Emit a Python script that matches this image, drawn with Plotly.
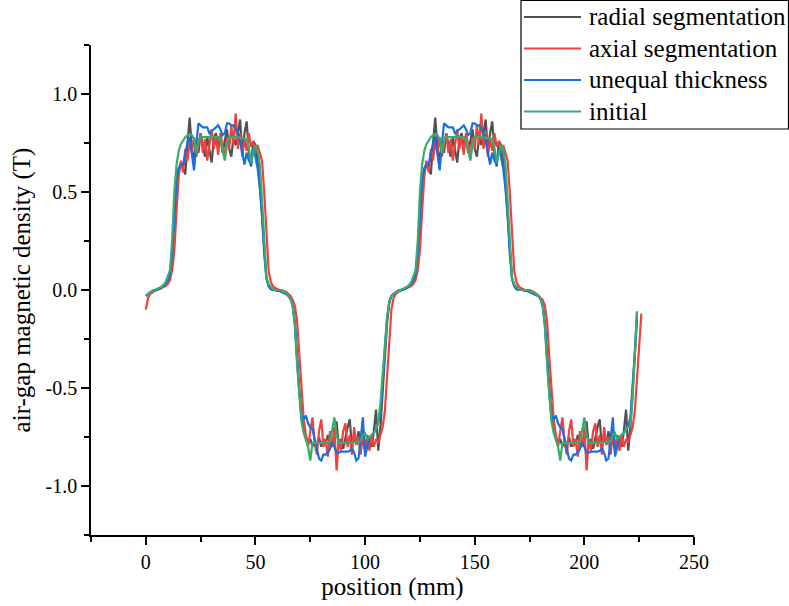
import plotly.graph_objects as go

# sampling positions along the air gap (mm)
position_mm = list(range(227))

radial_segmentation = [
    -0.03, -0.02, -0.01, -0.005, 0.0, 0.0, 0.005, 0.01, 0.02, 0.03,
    0.05, 0.08, 0.18, 0.40, 0.56, 0.62, 0.64, 0.62, 0.59, 0.75,
    0.88, 0.72, 0.66, 0.76, 0.70, 0.80, 0.74, 0.68, 0.78, 0.72,
    0.65, 0.77, 0.80, 0.73, 0.78, 0.70, 0.76, 0.82, 0.72, 0.68,
    0.78, 0.74, 0.80, 0.87, 0.70, 0.80, 0.86, 0.70, 0.63, 0.76,
    0.74, 0.66, 0.54, 0.38, 0.18, 0.06, 0.02, 0.005, 0.0, 0.0,
    -0.005, -0.005, -0.01, -0.015, -0.02, -0.03, -0.045, -0.08, -0.17, -0.35,
    -0.53, -0.66, -0.70, -0.75, -0.78, -0.76, -0.80, -0.77, -0.79, -0.75,
    -0.80, -0.76, -0.79, -0.74, -0.78, -0.80, -0.74, -0.67, -0.80, -0.76,
    -0.81, -0.75, -0.70, -0.66, -0.80, -0.74, -0.79, -0.72, -0.80, -0.76,
    -0.82, -0.74, -0.78, -0.80, -0.72, -0.61, -0.82, -0.70, -0.52, -0.33,
    -0.17, -0.07, -0.03, -0.02, -0.01, -0.005, 0.0, 0.0, 0.005, 0.01,
    0.02, 0.03, 0.05, 0.08, 0.18, 0.40, 0.56, 0.62, 0.64, 0.62,
    0.59, 0.75, 0.88, 0.72, 0.66, 0.76, 0.70, 0.80, 0.74, 0.68,
    0.78, 0.72, 0.65, 0.77, 0.80, 0.73, 0.78, 0.70, 0.76, 0.82,
    0.72, 0.68, 0.78, 0.74, 0.80, 0.87, 0.70, 0.80, 0.86, 0.70,
    0.63, 0.76, 0.74, 0.66, 0.54, 0.38, 0.18, 0.06, 0.02, 0.005,
    0.0, 0.0, 0.0, -0.005, -0.005, -0.01, -0.015, -0.02, -0.025, -0.03,
    -0.045, -0.08, -0.17, -0.35, -0.53, -0.66, -0.70, -0.75, -0.78, -0.76,
    -0.80, -0.77, -0.79, -0.75, -0.80, -0.76, -0.79, -0.74, -0.78, -0.80,
    -0.74, -0.67, -0.80, -0.76, -0.81, -0.75, -0.70, -0.66, -0.80, -0.74,
    -0.79, -0.72, -0.80, -0.76, -0.82, -0.74, -0.78, -0.80, -0.72, -0.61,
    -0.82, -0.70, -0.52, -0.33, -0.15,
]

axial_segmentation = [
    -0.10, -0.04, -0.02, -0.01, -0.005, 0.0, 0.005, 0.01, 0.015, 0.02,
    0.03, 0.05, 0.10, 0.20, 0.40, 0.58, 0.66, 0.60, 0.72, 0.66,
    0.76, 0.70, 0.78, 0.68, 0.74, 0.80, 0.70, 0.77, 0.66, 0.75,
    0.82, 0.72, 0.78, 0.69, 0.80, 0.74, 0.67, 0.78, 0.72, 0.84,
    0.74, 0.90, 0.72, 0.80, 0.68, 0.77, 0.71, 0.80, 0.73, 0.76,
    0.70, 0.74, 0.70, 0.66, 0.50, 0.30, 0.10, 0.04, 0.02, 0.01,
    0.005, 0.0, 0.0, -0.005, -0.01, -0.02, -0.03, -0.05, -0.08, -0.16,
    -0.34, -0.52, -0.66, -0.74, -0.80, -0.72, -0.65, -0.78, -0.84, -0.72,
    -0.66, -0.80, -0.76, -0.85, -0.72, -0.80, -0.70, -0.92, -0.76, -0.82,
    -0.72, -0.68, -0.80, -0.74, -0.84, -0.70, -0.79, -0.75, -0.84, -0.72,
    -0.80, -0.76, -0.82, -0.74, -0.80, -0.76, -0.78, -0.74, -0.70, -0.62,
    -0.44, -0.24, -0.10, -0.04, -0.02, -0.01, -0.005, 0.0, 0.005, 0.01,
    0.015, 0.02, 0.03, 0.05, 0.10, 0.20, 0.40, 0.58, 0.66, 0.60,
    0.72, 0.66, 0.76, 0.70, 0.78, 0.68, 0.74, 0.80, 0.70, 0.77,
    0.66, 0.75, 0.82, 0.72, 0.78, 0.69, 0.80, 0.74, 0.67, 0.78,
    0.72, 0.84, 0.74, 0.90, 0.72, 0.80, 0.68, 0.77, 0.71, 0.80,
    0.73, 0.76, 0.70, 0.74, 0.70, 0.66, 0.50, 0.30, 0.10, 0.04,
    0.02, 0.01, 0.005, 0.0, 0.0, 0.0, -0.005, -0.01, -0.02, -0.03,
    -0.04, -0.05, -0.08, -0.16, -0.34, -0.52, -0.66, -0.74, -0.80, -0.72,
    -0.65, -0.78, -0.84, -0.72, -0.66, -0.80, -0.76, -0.85, -0.72, -0.80,
    -0.70, -0.92, -0.76, -0.82, -0.72, -0.68, -0.80, -0.74, -0.84, -0.70,
    -0.79, -0.75, -0.84, -0.72, -0.80, -0.76, -0.82, -0.74, -0.80, -0.76,
    -0.78, -0.74, -0.70, -0.62, -0.44, -0.24, -0.12,
]

unequal_thickness = [
    -0.03, -0.02, -0.01, -0.005, 0.0, 0.0, 0.005, 0.01, 0.02, 0.03,
    0.05, 0.08, 0.18, 0.40, 0.56, 0.62, 0.64, 0.64, 0.70, 0.75,
    0.78, 0.70, 0.61, 0.74, 0.85, 0.84, 0.83, 0.83, 0.83, 0.80,
    0.81, 0.82, 0.83, 0.84, 0.82, 0.79, 0.80, 0.85, 0.85, 0.84,
    0.84, 0.82, 0.80, 0.76, 0.70, 0.64, 0.70, 0.66, 0.64, 0.72,
    0.68, 0.62, 0.52, 0.38, 0.18, 0.06, 0.02, 0.005, 0.0, 0.0,
    -0.005, -0.005, -0.01, -0.015, -0.02, -0.03, -0.045, -0.08, -0.17, -0.35,
    -0.53, -0.64, -0.66, -0.64, -0.68, -0.70, -0.71, -0.76, -0.82, -0.86,
    -0.87, -0.84, -0.84, -0.83, -0.81, -0.78, -0.80, -0.83, -0.83, -0.825,
    -0.825, -0.825, -0.825, -0.82, -0.81, -0.83, -0.87, -0.86, -0.76, -0.65,
    -0.85, -0.80, -0.75, -0.74, -0.73, -0.71, -0.68, -0.63, -0.48, -0.30,
    -0.15, -0.06, -0.03, -0.02, -0.01, -0.005, 0.0, 0.0, 0.005, 0.01,
    0.02, 0.03, 0.05, 0.08, 0.18, 0.40, 0.56, 0.62, 0.64, 0.64,
    0.70, 0.75, 0.78, 0.70, 0.61, 0.74, 0.85, 0.84, 0.83, 0.83,
    0.83, 0.80, 0.81, 0.82, 0.83, 0.84, 0.82, 0.79, 0.80, 0.85,
    0.85, 0.84, 0.84, 0.82, 0.80, 0.76, 0.70, 0.64, 0.70, 0.66,
    0.64, 0.72, 0.68, 0.62, 0.52, 0.38, 0.18, 0.06, 0.02, 0.005,
    0.0, 0.0, 0.0, -0.005, -0.005, -0.01, -0.015, -0.02, -0.025, -0.03,
    -0.045, -0.08, -0.17, -0.35, -0.53, -0.64, -0.66, -0.64, -0.68, -0.70,
    -0.71, -0.76, -0.82, -0.86, -0.87, -0.84, -0.84, -0.83, -0.81, -0.78,
    -0.80, -0.83, -0.83, -0.825, -0.825, -0.825, -0.825, -0.82, -0.81, -0.83,
    -0.87, -0.86, -0.76, -0.65, -0.85, -0.80, -0.75, -0.74, -0.73, -0.71,
    -0.69, -0.65, -0.50, -0.32, -0.11,
]

initial = [
    -0.03, -0.02, -0.01, -0.005, 0.0, 0.005, 0.01, 0.015, 0.025, 0.04,
    0.07, 0.10, 0.25, 0.50, 0.64, 0.71, 0.745, 0.765, 0.78, 0.79,
    0.795, 0.79, 0.77, 0.70, 0.76, 0.78, 0.78, 0.78, 0.78, 0.78,
    0.78, 0.78, 0.78, 0.78, 0.77, 0.72, 0.66, 0.74, 0.78, 0.78,
    0.78, 0.78, 0.78, 0.775, 0.775, 0.77, 0.77, 0.72, 0.65, 0.70,
    0.74, 0.72, 0.64, 0.46, 0.22, 0.06, 0.03, 0.015, 0.005, 0.0,
    0.0, 0.0, -0.005, -0.01, -0.015, -0.03, -0.045, -0.08, -0.19, -0.38,
    -0.55, -0.67, -0.73, -0.76, -0.80, -0.87, -0.78, -0.78, -0.78, -0.78,
    -0.78, -0.78, -0.78, -0.78, -0.775, -0.72, -0.65, -0.74, -0.78, -0.78,
    -0.78, -0.78, -0.78, -0.78, -0.78, -0.775, -0.775, -0.775, -0.77, -0.74,
    -0.73, -0.76, -0.75, -0.74, -0.73, -0.71, -0.67, -0.58, -0.44, -0.28,
    -0.14, -0.06, -0.03, -0.02, -0.01, -0.005, 0.0, 0.005, 0.01, 0.015,
    0.025, 0.04, 0.07, 0.10, 0.25, 0.50, 0.64, 0.71, 0.745, 0.765,
    0.78, 0.79, 0.795, 0.79, 0.77, 0.70, 0.76, 0.78, 0.78, 0.78,
    0.78, 0.78, 0.78, 0.78, 0.78, 0.78, 0.77, 0.72, 0.66, 0.74,
    0.78, 0.78, 0.78, 0.78, 0.78, 0.775, 0.775, 0.77, 0.77, 0.72,
    0.65, 0.70, 0.74, 0.72, 0.64, 0.46, 0.22, 0.06, 0.03, 0.015,
    0.005, 0.0, 0.0, 0.0, 0.0, -0.005, -0.01, -0.015, -0.02, -0.03,
    -0.045, -0.08, -0.19, -0.38, -0.55, -0.67, -0.73, -0.76, -0.80, -0.87,
    -0.78, -0.78, -0.78, -0.78, -0.78, -0.78, -0.78, -0.78, -0.775, -0.72,
    -0.65, -0.74, -0.78, -0.78, -0.78, -0.78, -0.78, -0.78, -0.78, -0.775,
    -0.775, -0.775, -0.77, -0.74, -0.73, -0.76, -0.75, -0.74, -0.73, -0.71,
    -0.70, -0.69, -0.55, -0.33, -0.11,
]

series_names = ["radial segmentation", "axial segmentation", "unequal thickness", "initial"]
series_values = [radial_segmentation, axial_segmentation, unequal_thickness, initial]
series_colors = ["#515151", "#F14040", "#1A6FDF", "#37AD6B"]

x_tick_values = [0, 50, 100, 150, 200, 250]
x_tick_labels = ["0", "50", "100", "150", "200", "250"]
x_minor_values = [-25, 25, 75, 125, 175, 225]
y_tick_values = [-1.0, -0.5, 0.0, 0.5, 1.0]
y_tick_labels = ["-1.0", "-0.5", "0.0", "0.5", "1.0"]
y_minor_values = [-1.25, -0.75, -0.25, 0.25, 0.75, 1.25]

FONT = "Liberation Serif, Times New Roman, serif"
W, H = 789, 606
ML, MR, MT, MB = 91, 95, 45, 71
PW, PH = W - ML - MR, H - MT - MB


def px_x(px):
    return (px - ML) / PW


def px_y(py):
    return (H - MB - py) / PH


fig = go.Figure()
for name, vals, col in zip(series_names, series_values, series_colors):
    fig.add_trace(go.Scatter(
        x=position_mm[:len(vals)], y=vals, mode="lines", name=name,
        line=dict(color=col, width=2.2), showlegend=False,
    ))

# legend drawn as a framed box in the upper right corner
shapes = [dict(type="rect", xref="paper", yref="paper",
               x0=px_x(521), x1=px_x(788.5), y0=px_y(129), y1=px_y(0.5),
               line=dict(color="black", width=1.2), fillcolor="white", layer="above")]
annotations = []
row_y = [17, 48.5, 80, 111.5]
for name, col, ry in zip(series_names, series_colors, row_y):
    shapes.append(dict(type="line", xref="paper", yref="paper",
                       x0=px_x(524), x1=px_x(581), y0=px_y(ry), y1=px_y(ry),
                       line=dict(color=col, width=2.2), layer="above"))
    annotations.append(dict(xref="paper", yref="paper", x=px_x(587), y=px_y(ry),
                            xanchor="left", yanchor="middle", text=name, showarrow=False,
                            font=dict(family=FONT, size=25, color="black")))

fig.update_layout(
    width=W, height=H,
    margin=dict(l=ML, r=MR, t=MT, b=MB, pad=0, autoexpand=False),
    paper_bgcolor="white", plot_bgcolor="white",
    font=dict(family=FONT, color="black"),
    shapes=shapes, annotations=annotations,
    xaxis=dict(
        range=[-25, 250], showgrid=False, zeroline=False, automargin=False,
        showline=True, linecolor="black", linewidth=1.5,
        tickmode="array", tickvals=x_tick_values, ticktext=x_tick_labels,
        ticks="outside", ticklen=8, tickwidth=1.5, tickcolor="black",
        minor=dict(tickmode="array", tickvals=x_minor_values, ticks="outside",
                   ticklen=5, tickwidth=1.5, tickcolor="black"),
        tickfont=dict(family=FONT, size=20, color="black"),
        title=dict(text="position (mm)", font=dict(family=FONT, size=25, color="black"), standoff=6),
    ),
    yaxis=dict(
        range=[-1.25, 1.25], showgrid=False, zeroline=False, automargin=False,
        showline=True, linecolor="black", linewidth=1.5,
        tickmode="array", tickvals=y_tick_values, ticktext=y_tick_labels,
        ticks="outside", ticklen=8, tickwidth=1.5, tickcolor="black",
        minor=dict(tickmode="array", tickvals=y_minor_values, ticks="outside",
                   ticklen=5, tickwidth=1.5, tickcolor="black"),
        tickfont=dict(family=FONT, size=20, color="black"),
        title=dict(text="air-gap magnetic density (T)", font=dict(family=FONT, size=25, color="black"), standoff=8),
    ),
)

fig.write_html("out.html")
